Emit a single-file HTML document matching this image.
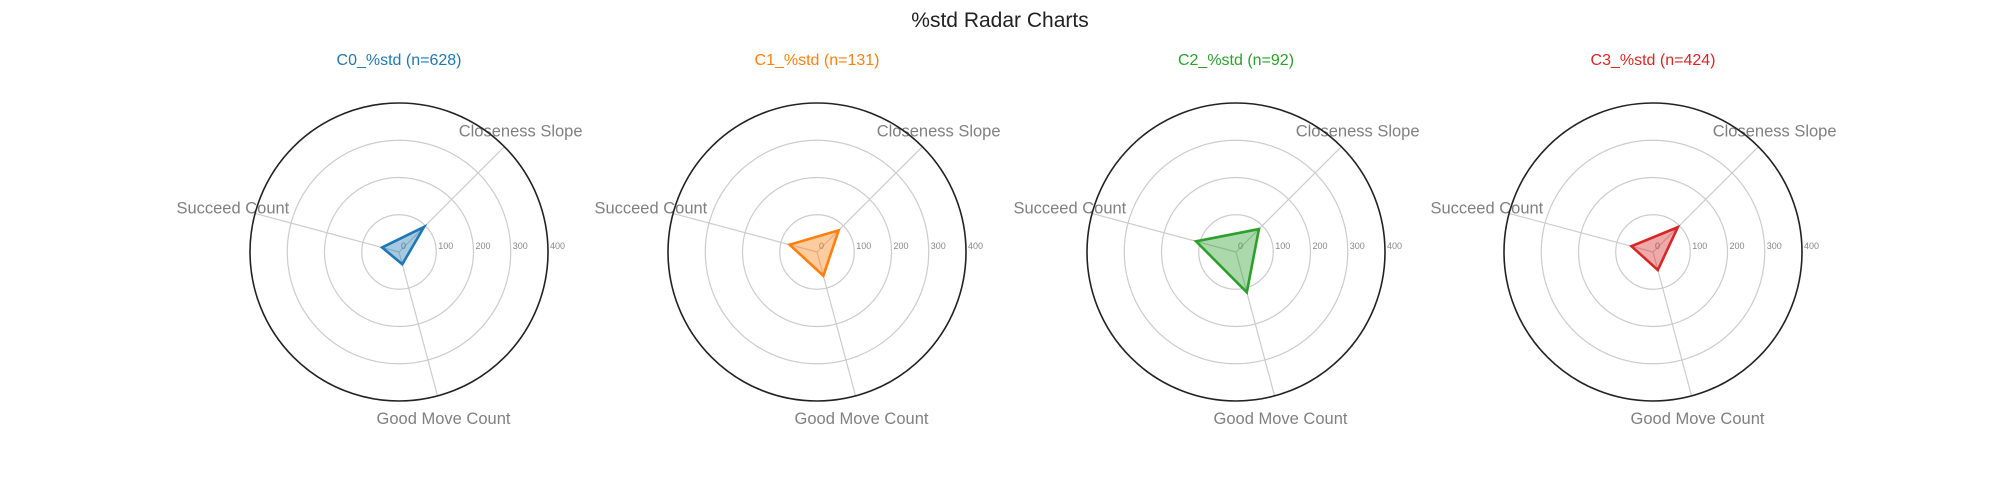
<!DOCTYPE html>
<html><head><meta charset="utf-8"><style>
html,body{margin:0;padding:0;background:#fff;}
svg{display:block;font-family:"Liberation Sans",sans-serif;}
</style></head><body>
<svg id="chart" width="2000" height="500" viewBox="0 0 2000 500" xmlns="http://www.w3.org/2000/svg">
<text x="1000" y="27" text-anchor="middle" font-size="21" fill="#222">%std Radar Charts</text>
</svg>
<script>
const categories = ["Closeness Slope", "Succeed Count", "Good Move Count"];
const clusterNames = ["C0_%std (n=628)", "C1_%std (n=131)", "C2_%std (n=92)", "C3_%std (n=424)"];
const c0Values = [95, 47, 34];
const c1Values = [82, 76, 66];
const c2Values = [87, 111, 112];
const c3Values = [94, 60, 50];
const tickLabels = [0, 100, 200, 300, 400];
const seriesValues = [c0Values, c1Values, c2Values, c3Values];
const colors = ["#1f77b4", "#ff7f0e", "#2ca02c", "#d62728"];
const angles = [45, 165, 285];
const centersX = [399, 817, 1236, 1653];
const cy = 252, R = 149, rMax = 400;
const svg = document.getElementById('chart');
const NS = 'http://www.w3.org/2000/svg';
function mk(tag, attrs, parent) {
  const e = document.createElementNS(NS, tag);
  for (const k in attrs) e.setAttribute(k, attrs[k]);
  (parent || svg).appendChild(e);
  return e;
}
function rScale(v) { return v / rMax * R; }
function pt(cx, deg, r) { const a = deg * Math.PI / 180; return [cx + r * Math.cos(a), cy - r * Math.sin(a)]; }
seriesValues.forEach((vals, i) => {
  const cx = centersX[i];
  const g = mk('g', {});
  
  
  const t = mk('text', {x: cx, y: 65, 'text-anchor': 'middle', 'font-size': 16, fill: colors[i]}, g);
  t.textContent = clusterNames[i];
  
  
  tickLabels.slice(1, 4).forEach(tv => {
    const c = mk('circle', {cx: cx, cy: cy, r: rScale(tv), fill: 'none', stroke: '#cccccc', 'stroke-width': 1.2}, g);
    
    
  });
  angles.forEach((a, k) => {
    const p = pt(cx, a, R);
    const l = mk('line', {x1: cx, y1: cy, x2: p[0], y2: p[1], stroke: '#cccccc', 'stroke-width': 1.2}, g);
    
    
    const lp = pt(cx, a, 172);
    const lt = mk('text', {x: lp[0], y: lp[1] + 6, 'text-anchor': 'middle', 'font-size': 16.5, fill: '#808080'}, g);
    lt.textContent = categories[k];
    
    
  });
  const outer = mk('circle', {cx: cx, cy: cy, r: R, fill: 'none', stroke: '#222', 'stroke-width': 1.6}, g);
  
  
  tickLabels.forEach(tv => {
    const tt = mk('text', {x: cx + rScale(tv) + 2, y: cy - 3, 'font-size': 9, fill: '#888'}, g);
    tt.textContent = tv;
    
    
  });
  const pts = vals.map((v, k) => pt(cx, angles[k], rScale(v)).join(',')).join(' ');
  const poly = mk('polygon', {points: pts, fill: colors[i], 'fill-opacity': 0.4, stroke: colors[i], 'stroke-width': 2.6, 'stroke-linejoin': 'miter'}, g);
  
  
});
</script>
</body></html>
